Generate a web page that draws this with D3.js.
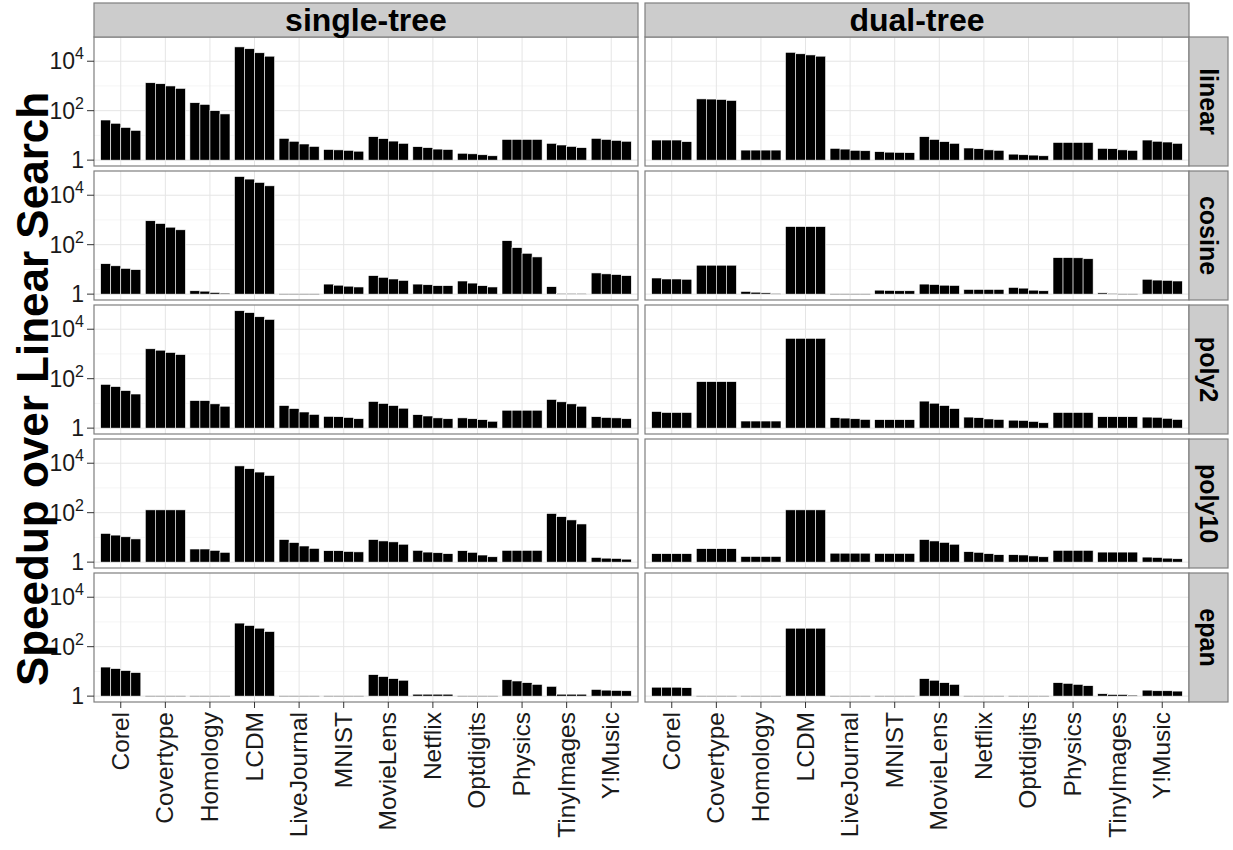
<!DOCTYPE html>
<html lang="en">
<head>
    <meta charset="UTF-8">
    <title>Speedup over Linear Search</title>
    <style>
        body { margin: 0; background: #fff; }
        svg { display: block; font-family: "Liberation Sans", Arial, sans-serif; }
    </style>
    <script src="https://d3js.org/d3.v7.min.js"></script>
</head>
<body>
    <div id="chart"></div>

    <script>
        // facets and categories
        const methods = ["single-tree", "dual-tree"];
        const kernels = ["linear", "cosine", "poly2", "poly10", "epan"];
        const datasets = ["Corel", "Covertype", "Homology", "LCDM", "LiveJournal", "MNIST",
            "MovieLens", "Netflix", "Optdigits", "Physics", "TinyImages", "Y!Music"];
        const yTicks = [1, 100, 10000];

        // speedups, 4 bars per dataset (same order as datasets)
        const linearSingle = [[42, 31, 21, 16], [1350, 1230, 1000, 800], [210, 180, 100, 74], [38000, 32000, 22000, 16000],
            [7.6, 5.8, 4.5, 3.6], [2.7, 2.6, 2.5, 2.3], [8.9, 7.4, 5.9, 4.8], [3.5, 3.2, 2.8, 2.7],
            [1.9, 1.8, 1.65, 1.5], [6.9, 6.9, 6.9, 6.9], [4.8, 4.1, 3.6, 3.2], [7.6, 6.9, 6.3, 5.8]];
        const linearDual = [[6.5, 6.5, 6.5, 5.6], [300, 295, 285, 260], [2.55, 2.55, 2.55, 2.55], [23000, 20000, 18000, 16000],
            [3.0, 2.8, 2.5, 2.4], [2.2, 2.1, 2.05, 2.0], [8.9, 6.9, 5.6, 4.8], [3.1, 2.9, 2.6, 2.5],
            [1.75, 1.65, 1.6, 1.5], [5.2, 5.2, 5.2, 5.2], [3.0, 2.9, 2.6, 2.5], [6.5, 5.8, 5.4, 4.8]];
        const cosineSingle = [[17, 14, 11, 9.8], [930, 720, 510, 400], [1.37, 1.32, 1.17, 1.1], [57000, 45000, 33000, 24000],
            [1.03, 1.03, 1.03, 1.03], [2.55, 2.3, 2.1, 1.95], [5.6, 4.8, 4.1, 3.6], [2.55, 2.4, 2.2, 2.2],
            [3.4, 2.8, 2.2, 1.95], [145, 76, 45, 32], [2.0, 1.07, 1.07, 1.07], [7.2, 6.6, 6.2, 5.6]];
        const cosineDual = [[4.5, 4.1, 4.1, 4.0], [14.8, 14.8, 14.8, 14.8], [1.29, 1.2, 1.13, 1.07], [540, 540, 540, 540],
            [1.03, 1.03, 1.03, 1.03], [1.45, 1.41, 1.37, 1.37], [2.55, 2.45, 2.3, 2.25], [1.55, 1.55, 1.55, 1.55],
            [1.87, 1.75, 1.45, 1.37], [30, 30, 29.5, 27], [1.13, 1.07, 1.03, 1.03], [4.0, 3.7, 3.6, 3.4]];
        const poly2Single = [[59, 48, 33, 24], [1620, 1420, 1150, 950], [13, 13, 9.6, 7.7], [56000, 47000, 32000, 25000],
            [8.2, 6.2, 4.5, 3.6], [3.0, 2.9, 2.7, 2.4], [12, 10, 8.2, 6.4], [3.5, 3.1, 2.6, 2.4],
            [2.6, 2.4, 2.2, 1.9], [5.3, 5.3, 5.3, 5.3], [14.5, 11.6, 9.6, 7.7], [2.9, 2.7, 2.6, 2.4]];
        const poly2Dual = [[4.7, 4.3, 4.3, 4.3], [76, 76, 76, 76], [1.94, 1.94, 1.94, 1.94], [4300, 4300, 4300, 4300],
            [2.65, 2.55, 2.4, 2.25], [2.2, 2.2, 2.2, 2.2], [12.4, 10.2, 8.2, 6.2], [2.8, 2.65, 2.35, 2.25],
            [2.1, 2.05, 1.87, 1.65], [4.3, 4.3, 4.3, 4.3], [2.9, 2.9, 2.9, 2.9], [2.8, 2.75, 2.5, 2.25]];
        const poly10Single = [[14.5, 12.4, 10.6, 8.7], [130, 130, 130, 130], [3.4, 3.4, 3.0, 2.5], [7800, 6000, 4400, 3200],
            [8.2, 6.2, 4.5, 3.6], [2.9, 2.9, 2.7, 2.6], [8.2, 7.2, 6.6, 5.3], [3.0, 2.55, 2.4, 2.2],
            [2.9, 2.5, 1.94, 1.65], [3.0, 3.0, 3.0, 3.0], [93, 69, 51, 35], [1.55, 1.45, 1.41, 1.32]];
        const poly10Dual = [[2.2, 2.2, 2.2, 2.2], [3.5, 3.5, 3.5, 3.5], [1.7, 1.7, 1.7, 1.7], [130, 130, 130, 130],
            [2.3, 2.3, 2.3, 2.3], [2.25, 2.25, 2.25, 2.25], [8.2, 7.2, 6.3, 5.3], [2.65, 2.5, 2.2, 2.0],
            [2.0, 1.95, 1.78, 1.65], [3.0, 3.0, 3.0, 3.0], [2.55, 2.55, 2.55, 2.55], [1.6, 1.55, 1.45, 1.37]];
        const epanSingle = [[15, 13, 10.8, 9], [1.03, 1.03, 1.03, 1.03], [1.03, 1.03, 1.03, 1.03], [900, 720, 560, 410],
            [1.03, 1.03, 1.03, 1.03], [1.03, 1.03, 1.03, 1.03], [7.4, 6.2, 5.1, 4.4], [1.2, 1.2, 1.2, 1.2],
            [1.03, 1.03, 1.03, 1.03], [4.6, 4.1, 3.5, 3.0], [2.5, 1.2, 1.2, 1.2], [1.87, 1.75, 1.7, 1.65]];
        const epanDual = [[2.3, 2.3, 2.3, 2.2], [1.03, 1.03, 1.03, 1.03], [1.03, 1.03, 1.03, 1.03], [560, 560, 560, 560],
            [1.03, 1.03, 1.03, 1.03], [1.03, 1.03, 1.03, 1.03], [5.1, 4.4, 3.5, 3.0], [1.03, 1.03, 1.03, 1.03],
            [1.03, 1.03, 1.03, 1.03], [3.5, 3.3, 3.0, 2.65], [1.25, 1.17, 1.17, 1.1], [1.75, 1.65, 1.65, 1.6]];

        const values = {
            linear: [linearSingle, linearDual],
            cosine: [cosineSingle, cosineDual],
            poly2: [poly2Single, poly2Dual],
            poly10: [poly10Single, poly10Dual],
            epan: [epanSingle, epanDual]
        };

        const width = 1233, height = 850;
        const panelLeft = [94, 645], panelW = 544;
        const panelTop0 = 37, panelH = 129, panelGap = 5;
        const stripH = 34, stripW = 39;

        const svg = d3.select("#chart").append("svg")
            .attr("width", width)
            .attr("height", height);

        const x = d3.scalePoint()
            .domain(datasets)
            .range([0, panelW])
            .padding(0.6);
        const step = x.step();
        const xInner = d3.scaleBand()
            .domain([0, 1, 2, 3])
            .range([-0.45 * step, 0.45 * step]);

        const y = d3.scaleLog()
            .domain([Math.pow(10, -0.237), Math.pow(10, 4.98)])
            .range([panelH, 0]);
        const minorTicks = [10, 1000];

        kernels.forEach((k, r) => {
            const top = panelTop0 + r * (panelH + panelGap);
            methods.forEach((m, c) => {
                const g = svg.append("g")
                    .attr("transform", `translate(${panelLeft[c]},${top})`);

                g.append("rect")
                    .attr("width", panelW).attr("height", panelH)
                    .attr("fill", "#fff");

                // grid
                g.selectAll(".minor").data(minorTicks).enter().append("line")
                    .attr("x1", 0).attr("x2", panelW)
                    .attr("y1", d => y(d)).attr("y2", d => y(d))
                    .attr("stroke", "#f2f2f2").attr("stroke-width", 0.8);
                g.selectAll(".major").data(yTicks).enter().append("line")
                    .attr("x1", 0).attr("x2", panelW)
                    .attr("y1", d => y(d)).attr("y2", d => y(d))
                    .attr("stroke", "#e5e5e5").attr("stroke-width", 1);
                g.selectAll(".vgrid").data(datasets).enter().append("line")
                    .attr("x1", d => x(d)).attr("x2", d => x(d))
                    .attr("y1", 0).attr("y2", panelH)
                    .attr("stroke", "#e5e5e5").attr("stroke-width", 1);

                // bars
                const rows = [];
                values[k][c].forEach((vals, i) => {
                    vals.forEach((v, j) => rows.push({ ds: datasets[i], j: j, v: v }));
                });
                g.selectAll(".bar").data(rows).enter().append("rect")
                    .attr("x", d => x(d.ds) + xInner(d.j))
                    .attr("width", xInner.bandwidth())
                    .attr("y", d => y(d.v))
                    .attr("height", d => Math.max(0.8, y(1) - y(d.v)))
                    .attr("fill", "#000")
                    .attr("stroke", "#fff")
                    .attr("stroke-width", 0.6);

                g.append("rect")
                    .attr("width", panelW).attr("height", panelH)
                    .attr("fill", "none")
                    .attr("stroke", "#7f7f7f").attr("stroke-width", 1.2);

                // y axis on left column
                if (c === 0) {
                    const ya = g.append("g");
                    ya.selectAll("line").data(yTicks).enter().append("line")
                        .attr("x1", -7).attr("x2", 0)
                        .attr("y1", d => y(d)).attr("y2", d => y(d))
                        .attr("stroke", "#333").attr("stroke-width", 1);
                    const lab = ya.selectAll("text").data(yTicks).enter().append("text")
                        .attr("x", -10)
                        .attr("y", d => y(d) + 8)
                        .attr("text-anchor", "end")
                        .attr("font-size", 23)
                        .attr("fill", "#1a1a1a");
                    lab.each(function (d) {
                        const t = d3.select(this);
                        if (d === 1) { t.text("1"); return; }
                        t.append("tspan").text("10");
                        t.append("tspan")
                            .attr("dy", -10)
                            .attr("font-size", 16)
                            .text(Math.round(Math.log10(d)));
                    });
                }

                // top strip
                if (r === 0) {
                    svg.append("rect")
                        .attr("x", panelLeft[c]).attr("y", panelTop0 - stripH)
                        .attr("width", panelW).attr("height", stripH)
                        .attr("fill", "#cccccc")
                        .attr("stroke", "#7f7f7f").attr("stroke-width", 1.2);
                    svg.append("text")
                        .attr("x", panelLeft[c] + panelW / 2)
                        .attr("y", panelTop0 - stripH / 2)
                        .attr("dy", "0.33em")
                        .attr("text-anchor", "middle")
                        .attr("font-size", 32)
                        .attr("font-weight", "bold")
                        .text(m);
                }

                // x axis on bottom row
                if (r === kernels.length - 1) {
                    g.selectAll(".xtick").data(datasets).enter().append("line")
                        .attr("x1", d => x(d)).attr("x2", d => x(d))
                        .attr("y1", panelH).attr("y2", panelH + 6)
                        .attr("stroke", "#333");
                    g.selectAll(".xlab").data(datasets).enter().append("text")
                        .attr("transform", d => `translate(${x(d) + 8},${panelH + 10}) rotate(-90)`)
                        .attr("text-anchor", "end")
                        .attr("font-size", 24.5)
                        .attr("fill", "#1a1a1a")
                        .text(d => d);
                }
            });

            // right strip
            const sx = panelLeft[1] + panelW;
            svg.append("rect")
                .attr("x", sx).attr("y", top)
                .attr("width", stripW).attr("height", panelH)
                .attr("fill", "#cccccc")
                .attr("stroke", "#7f7f7f").attr("stroke-width", 1.2);
            svg.append("text")
                .attr("transform", `translate(${sx + stripW / 2},${top + panelH / 2}) rotate(90)`)
                .attr("dy", "0.35em")
                .attr("text-anchor", "middle")
                .attr("font-size", 25)
                .attr("font-weight", "bold")
                .text(k);
        });

        // y axis title
        svg.append("text")
            .attr("transform", "translate(48,389) rotate(-90)")
            .attr("text-anchor", "middle")
            .attr("font-size", 44)
            .attr("font-weight", "bold")
            .text("Speedup over Linear Search");
    </script>
</body>
</html>
